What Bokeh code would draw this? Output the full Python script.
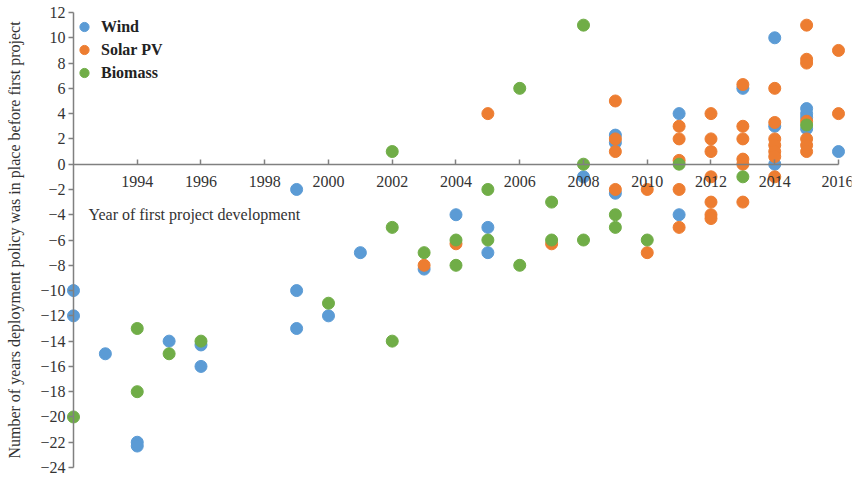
from bokeh.plotting import figure
from bokeh.models import Range1d, FixedTicker, Label, Legend
from bokeh.embed import file_html
from bokeh.resources import INLINE

# ---- data ----
wind_year = [1992, 1992, 1993, 1994, 1994, 1995, 1996, 1996, 1999, 1999, 1999, 2000, 2001,
             2003, 2004, 2005, 2005, 2008, 2009, 2009, 2009, 2011, 2011, 2013,
             2014, 2014, 2014, 2015, 2015, 2015, 2015, 2016]
wind_val = [-10, -12, -15, -22, -22.3, -14, -14.3, -16, -2, -10, -13, -12, -7,
            -8.3, -4, -5, -7, -1, 2.3, 1.7, -2.3, 4, -4, 6,
            10, 3, 0, 4.4, 4.0, 3.7, 2.8, 1]

solar_year = [2003, 2004, 2005, 2007, 2009, 2009, 2009, 2009, 2010, 2010,
              2011, 2011, 2011, 2011, 2011,
              2012, 2012, 2012, 2012, 2012, 2012, 2012,
              2013, 2013, 2013, 2013, 2013, 2013,
              2014, 2014, 2014, 2014, 2014, 2014, 2014,
              2015, 2015, 2015, 2015, 2015, 2015, 2015, 2016, 2016]
solar_val = [-8, -6.3, 4, -6.3, 5, 2, 1, -2, -2, -7,
             3, 2, 0.3, -2, -5,
             4, 2, 1, -1, -3, -4, -4.3,
             6.3, 3, 2, 0.4, 0, -3,
             6, 3.3, 2, 1.5, 1, 0.6, -1,
             11, 8.3, 8, 3.4, 2, 1.5, 1, 9, 4]

bio_year = [1992, 1994, 1994, 1995, 1996, 2000, 2002, 2002, 2002, 2003, 2004, 2004,
            2005, 2005, 2006, 2006, 2007, 2007, 2008, 2008, 2008, 2009, 2009,
            2010, 2011, 2013, 2015]
bio_val = [-20, -13, -18, -15, -14, -11, 1, -5, -14, -7, -6, -8,
           -2, -6, 6, -8, -3, -6, 11, 0, -6, -4, -5,
           -6, 0, -1, 3.1]

x_ticks = list(range(1994, 2017, 2))
y_ticks = list(range(-24, 13, 2))

series = [("Wind", wind_year, wind_val, "#5B9BD5"),
          ("Solar PV", solar_year, solar_val, "#ED7D31"),
          ("Biomass", bio_year, bio_val, "#70AD47")]

FONT = "Liberation Serif"
TXT = "#333333"
AX = "#808080"

p = figure(width=853, height=476, output_backend="svg", toolbar_location=None,
           x_range=Range1d(1989.71, 2016.408), y_range=Range1d(-24.71, 12.95))
p.min_border_left = 0
p.min_border_right = 2
p.min_border_top = 0
p.min_border_bottom = 0
p.outline_line_color = None
p.xgrid.visible = False
p.ygrid.visible = False
p.background_fill_color = "white"
p.border_fill_color = "white"

items = []
for name, xs, ys, col in series:
    r = p.scatter(xs, ys, size=12, marker="circle", fill_color=col, line_color=col)
    items.append((name, [r]))

legend = Legend(items=items, location=(72, 392))
legend.border_line_color = None
legend.background_fill_alpha = 0
legend.label_text_font = FONT
legend.label_text_font_style = "bold"
legend.label_text_font_size = "16px"
legend.label_text_color = "#222222"
legend.glyph_width = 24
legend.glyph_height = 23
legend.label_height = 23
legend.spacing = 0
legend.padding = 4
legend.margin = 0
legend.label_standoff = 5
p.add_layout(legend)

xa = p.xaxis[0]
xa.fixed_location = 0
xa.bounds = (1992, 2016)
xa.ticker = FixedTicker(ticks=x_ticks)
xa.major_tick_in = 5
xa.major_tick_out = 0
xa.minor_tick_in = 0
xa.minor_tick_out = 0
xa.major_label_standoff = 12
xa.axis_line_color = AX
xa.axis_line_width = 1.5
xa.major_tick_line_color = AX
xa.major_tick_line_width = 1.5
xa.major_label_text_font = FONT
xa.major_label_text_font_size = "16px"
xa.major_label_text_color = TXT

ya = p.yaxis[0]
ya.fixed_location = 1992
ya.bounds = (-24, 12)
ya.ticker = FixedTicker(ticks=y_ticks)
ya.major_tick_in = 0
ya.major_tick_out = 5
ya.minor_tick_in = 0
ya.minor_tick_out = 0
ya.major_label_standoff = 3
ya.axis_line_color = AX
ya.axis_line_width = 1.5
ya.major_tick_line_color = AX
ya.major_tick_line_width = 1.5
ya.major_label_text_font = FONT
ya.major_label_text_font_size = "16px"
ya.major_label_text_color = TXT
ya.axis_label = "Number of years deployment policy was in place before first project"
ya.axis_label_text_font = FONT
ya.axis_label_text_font_style = "normal"
ya.axis_label_text_font_size = "16px"
ya.axis_label_text_color = TXT
ya.axis_label_standoff = 14

p.add_layout(Label(x=1992.47, y=-4, text="Year of first project development",
                   text_font=FONT, text_font_size="16px", text_color=TXT,
                   text_align="left", text_baseline="middle"))

open("out.html", "w").write(file_html(p, INLINE))
